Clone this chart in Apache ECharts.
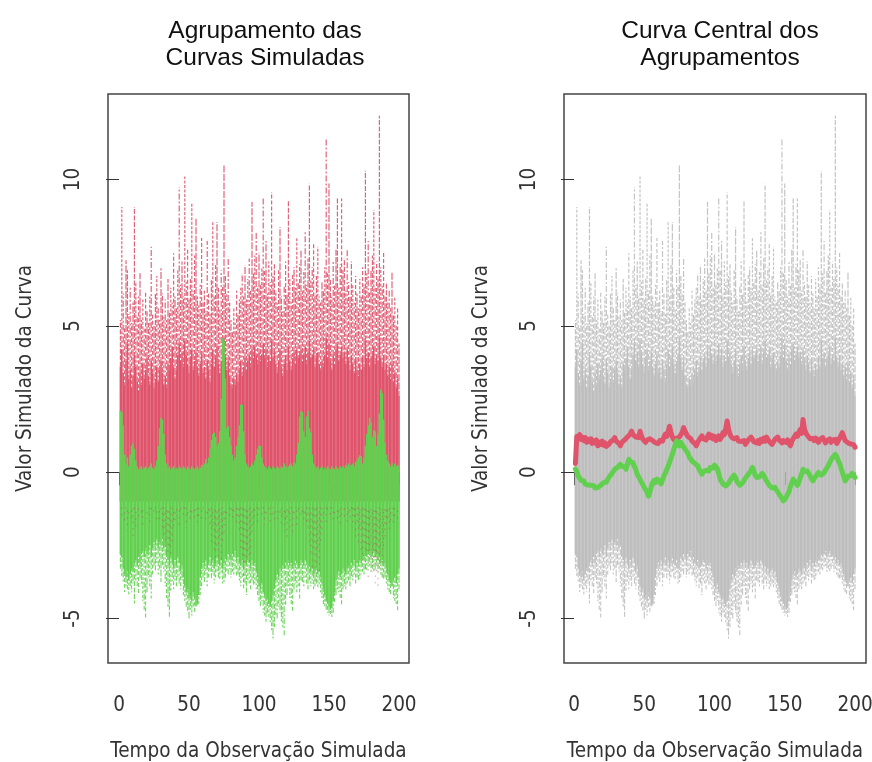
<!DOCTYPE html>
<html><head><meta charset="utf-8">
<script src="https://cdn.jsdelivr.net/npm/echarts@6/dist/echarts.min.js"></script>
<style>html,body{margin:0;padding:0;background:#fff}#c{width:872px;height:762px}</style>
</head><body><div id="c"></div>
<script>
// ---- tick labels ----
const xTicks = [0, 50, 100, 150, 200];
const yTicks = [-5, 0, 5, 10];
const titles = ["Agrupamento das\nCurvas Simuladas", "Curva Central dos\nAgrupamentos"];
const xName = "Tempo da Observação Simulada";
const yName = "Valor Simulado da Curva";

// ---- red cluster: spike maxima (t = 1..200) ----
const redTop = [
 5.2, 9.06, 6.1, 5.0, 7.24, 6.9, 5.4, 6.3, 5.1, 5.8,
 9.06, 6.5, 5.3, 6.0, 6.8, 5.2, 5.9, 4.9, 6.2, 5.5,
 5.1, 6.0, 7.7, 5.4, 5.0, 6.1, 6.7, 5.6, 5.2, 6.97,
 6.1, 5.3, 5.9, 5.2, 6.6, 5.5, 6.3, 5.8, 7.48, 6.0,
 5.6, 6.9, 9.74, 6.4, 7.2, 6.0, 10.1, 6.5, 7.6, 5.9,
 6.6, 9.18, 6.2, 7.4, 8.67, 6.0, 5.7, 6.4, 8.0, 5.8,
 6.2, 5.5, 7.9, 6.1, 5.4, 6.6, 8.55, 6.0, 7.1, 8.55,
 6.3, 5.6, 6.9, 6.4, 10.53, 6.7, 6.1, 7.36, 5.8, 5.2,
 4.8, 5.6, 5.1, 6.2, 5.4, 5.9, 6.3, 6.8, 6.0, 7.07,
 5.9, 6.6, 7.3, 6.2, 9.23, 6.8, 7.4, 8.2, 6.3, 7.5,
 6.4, 7.0, 9.4, 6.9, 7.9, 6.1, 7.2, 6.5, 9.57, 6.7,
 7.1, 6.2, 5.8, 6.9, 8.38, 6.0, 5.5, 6.4, 7.2, 6.1,
 9.29, 6.6, 5.9, 6.8, 7.0, 6.3, 8.0, 6.5, 7.1, 7.59,
 6.2, 6.9, 8.2, 6.4, 7.3, 9.85, 6.6, 7.0, 7.8, 6.1,
 6.7, 7.7, 6.0, 5.8, 6.5, 6.2, 7.0, 11.38, 6.8, 9.86,
 6.6, 6.0, 7.2, 6.4, 7.6, 9.4, 6.3, 7.1, 9.35, 6.9,
 7.3, 6.2, 7.6, 6.5, 6.0, 7.2, 6.4, 5.8, 6.7, 6.1,
 5.6, 6.6, 6.0, 7.0, 6.4, 10.3, 6.8, 7.9, 6.2, 6.9,
 7.4, 8.95, 6.3, 7.2, 6.6, 12.18, 7.0, 6.4, 7.5, 6.0,
 6.5, 5.8, 6.2, 5.6, 6.85, 5.4, 6.0, 5.0, 5.6, 4.4
];
// red cluster: top of the densely covered band
const redCore = [
 3.6, 4.2, 3.4, 3.0, 3.8, 4.4, 3.2, 3.5, 2.9, 3.3,
 4.0, 3.6, 3.1, 2.8, 3.4, 3.0, 3.7, 3.2, 3.5, 3.9,
 3.3, 3.0, 3.8, 3.4, 2.9, 3.2, 3.6, 3.1, 3.5, 3.8,
 3.4, 3.0, 3.3, 2.9, 3.7, 3.5, 3.9, 4.3, 3.6, 3.2,
 3.5, 4.0, 4.4, 3.8, 4.1, 3.6, 4.5, 4.0, 3.7, 3.4,
 3.9, 4.2, 3.5, 3.8, 4.1, 3.6, 3.3, 3.7, 4.0, 3.4,
 3.6, 3.2, 3.8, 3.5, 3.1, 3.7, 4.2, 3.6, 3.9, 4.3,
 3.7, 3.4, 3.8, 4.0, 4.6, 3.9, 3.5, 3.8, 3.3, 3.0,
 2.9, 3.2, 3.0, 3.4, 3.1, 3.5, 3.8, 3.3, 3.6, 3.9,
 3.5, 3.8, 4.0, 3.6, 4.2, 3.9, 4.3, 4.0, 3.7, 4.1,
 3.8, 4.0, 4.4, 3.9, 4.2, 3.6, 4.0, 3.8, 4.5, 3.9,
 4.1, 3.7, 3.4, 3.8, 4.2, 3.6, 3.3, 3.7, 4.0, 3.5,
 4.3, 3.8, 3.5, 3.9, 4.1, 3.7, 4.2, 3.9, 4.0, 4.2,
 3.8, 4.0, 4.3, 3.7, 4.1, 4.5, 3.9, 4.0, 4.2, 3.6,
 3.9, 4.1, 3.7, 3.5, 3.8, 3.6, 4.0, 4.6, 3.9, 4.4,
 3.8, 3.5, 4.0, 3.7, 4.2, 4.4, 3.8, 4.0, 4.3, 3.9,
 4.1, 3.7, 4.2, 3.8, 3.5, 4.0, 3.7, 3.4, 3.8, 3.5,
 3.3, 3.7, 3.5, 3.9, 3.6, 4.5, 3.9, 4.1, 3.6, 3.9,
 4.0, 4.3, 3.7, 4.0, 3.8, 4.6, 3.9, 3.6, 4.0, 3.5,
 3.7, 3.3, 3.6, 3.2, 3.7, 3.1, 3.4, 2.9, 3.2, 2.6
];
// red cluster: lowest excursions
const redLow = [
 -1.2, -1.6, -1.0, -1.8, -1.3, -2.0, -1.5, -1.1, -1.7, -2.2,
 -1.4, -1.9, -1.2, -1.6, -1.0, -1.5, -1.8, -1.3, -1.1, -1.6,
 -1.2, -1.7, -1.4, -1.0, -1.5, -1.3, -1.8, -1.1, -1.6, -1.4,
 -1.9, -2.3, -2.6, -2.2, -2.8, -2.5, -2.9, -2.4, -2.0, -1.7,
 -1.5, -1.2, -1.8, -1.4, -1.1, -1.6, -1.3, -1.9, -1.5, -1.2,
 -1.7, -1.4, -1.1, -1.6, -1.3, -1.8, -1.5, -1.2, -1.6, -1.4,
 -1.2, -1.8, -1.5, -1.3, -1.9, -2.4, -2.0, -2.7, -3.1, -2.6,
 -2.9, -2.3, -3.0, -2.5, -2.1, -1.8, -1.5, -1.2, -1.6, -1.3,
 -1.7, -1.4, -1.2, -1.8, -1.5, -2.1, -2.6, -3.2, -3.8, -3.5,
 -3.0, -2.7, -3.4, -2.8, -2.2, -1.8, -1.5, -1.3, -1.7, -1.4,
 -1.2, -1.6, -1.3, -1.8, -1.5, -1.1, -1.4, -1.7, -1.2, -1.5,
 -1.8, -1.3, -1.6, -1.2, -1.4, -1.9, -1.5, -2.0, -1.7, -2.2,
 -1.5, -1.9, -1.4, -2.1, -1.6, -1.3, -1.8, -1.4, -1.2, -1.6,
 -1.4, -1.8, -1.5, -1.7, -2.0, -2.4, -2.9, -3.3, -2.6, -3.8,
 -3.1, -2.7, -3.4, -2.5, -2.0, -1.6, -1.3, -1.7, -1.4, -1.2,
 -1.6, -1.3, -1.8, -1.5, -1.2, -1.7, -1.4, -1.9, -1.5, -1.3,
 -1.6, -1.2, -1.8, -1.4, -1.7, -1.3, -1.9, -1.6, -2.2, -1.8,
 -2.4, -2.0, -2.7, -3.0, -2.5, -3.3, -2.8, -3.6, -3.1, -2.7,
 -3.4, -3.0, -3.8, -3.5, -3.9, -3.2, -2.8, -3.5, -2.6, -2.2,
 -1.9, -1.6, -2.1, -1.7, -1.4, -1.8, -1.5, -1.3, -1.6, -1.2
];
// green cluster: top of the band (green curves poking upward)
const greenTop = [
 2.1, 2.05, 1.6, 0.6, 0.3, 0.5, 0.2, 0.6, 0.9, 1.0,
 0.8, 0.4, 0.2, 0.1, 0.15, 0.2, 0.1, 0.15, 0.2, 0.1,
 0.15, 0.2, 0.3, 0.15, 0.1, 0.2, 0.4, 0.9, 1.5, 1.86,
 1.8, 1.3, 0.6, 0.3, 0.15, 0.2, 0.1, 0.15, 0.2, 0.1,
 0.15, 0.1, 0.2, 0.15, 0.1, 0.2, 0.15, 0.1, 0.2, 0.15,
 0.1, 0.2, 0.15, 0.1, 0.15, 0.2, 0.1, 0.15, 0.25, 0.2,
 0.3, 0.44, 0.3, 0.5, 0.8, 1.1, 1.3, 1.35, 1.2, 0.9,
 1.0, 1.4, 2.5, 4.58, 4.5, 3.2, 1.5, 1.57, 1.2, 0.9,
 0.6, 0.4, 0.5, 0.9, 1.2, 1.6, 2.31, 2.3, 1.4, 0.6,
 0.3, 0.2, 0.15, 0.2, 0.3, 0.25, 0.4, 0.6, 0.8, 0.9,
 0.9, 0.5, 0.3, 0.2, 0.15, 0.1, 0.2, 0.15, 0.1, 0.2,
 0.15, 0.1, 0.2, 0.15, 0.1, 0.2, 0.15, 0.3, 0.2, 0.15,
 0.2, 0.25, 0.3, 0.2, 0.35, 0.3, 0.6, 1.0, 1.9, 2.09,
 2.05, 1.4, 1.2, 1.9, 2.09, 1.5, 1.36, 0.6, 0.3, 0.2,
 0.15, 0.2, 0.1, 0.15, 0.2, 0.1, 0.15, 0.1, 0.2, 0.15,
 0.1, 0.2, 0.15, 0.1, 0.2, 0.15, 0.1, 0.2, 0.15, 0.2,
 0.15, 0.25, 0.2, 0.3, 0.2, 0.25, 0.3, 0.2, 0.35, 0.4,
 0.5, 0.58, 0.55, 0.3, 0.5, 0.9, 1.3, 1.6, 1.86, 1.7,
 1.2, 1.43, 1.4, 0.9, 1.3, 2.0, 2.82, 2.7, 1.8, 1.0,
 0.6, 0.4, 0.3, 0.2, 0.3, 0.2, 0.3, 0.2, 0.25, 0.2
];
// green cluster: bottom of the densely covered band
const greenCore = [
 -2.8, -2.9, -3.3, -3.5, -3.6, -3.4, -3.7, -3.5, -3.3, -3.4,
 -3.1, -3.0, -3.2, -2.9, -3.1, -2.8, -2.7, -2.9, -2.6, -2.8,
 -2.7, -2.5, -2.9, -2.6, -2.4, -2.5, -2.3, -2.6, -2.4, -2.5,
 -2.3, -2.6, -2.5, -2.9, -3.0, -3.2, -2.9, -3.1, -3.3, -3.0,
 -3.2, -2.9, -3.1, -3.4, -3.2, -3.6, -3.9, -4.1, -4.0, -4.3,
 -4.2, -4.4, -4.1, -4.3, -4.56, -4.5, -4.2, -3.6, -3.3, -3.1,
 -3.2, -3.0, -3.3, -3.1, -2.9, -3.2, -3.0, -3.3, -3.1, -2.9,
 -3.1, -3.2, -3.0, -3.3, -3.1, -2.9, -3.0, -2.8, -2.9, -3.0,
 -2.8, -2.9, -2.7, -3.0, -2.9, -3.1, -3.2, -3.0, -3.3, -3.1,
 -3.2, -3.0, -3.1, -3.3, -3.0, -3.2, -3.1, -3.4, -3.6, -3.9,
 -4.0, -3.8, -4.1, -4.2, -4.4, -4.3, -4.5, -4.6, -4.4, -4.2,
 -4.0, -3.7, -3.5, -3.6, -3.3, -3.4, -3.2, -3.3, -3.1, -3.2,
 -3.0, -3.2, -3.1, -3.3, -3.2, -3.0, -3.1, -3.3, -3.2, -3.0,
 -3.1, -3.2, -3.0, -3.1, -3.3, -3.2, -3.4, -3.3, -3.5, -3.4,
 -3.3, -3.5, -3.4, -3.6, -3.8, -4.0, -4.2, -4.4, -4.5, -4.6,
 -4.7, -4.65, -4.4, -4.1, -3.7, -3.5, -3.4, -3.6, -3.5, -3.3,
 -3.4, -3.5, -3.3, -3.2, -3.4, -3.1, -3.2, -3.0, -3.3, -3.1,
 -3.2, -3.0, -3.1, -2.9, -3.0, -2.8, -2.9, -2.8, -2.7, -2.9,
 -2.8, -2.7, -2.9, -2.8, -3.0, -2.9, -3.1, -3.0, -3.2, -3.1,
 -3.3, -3.5, -3.7, -3.8, -3.9, -3.7, -3.6, -3.8, -3.5, -3.3
];
// green cluster: spike minima
const greenLow = [
 -3.3, -3.6, -3.8, -4.09, -3.9, -4.0, -4.2, -3.9, -4.1, -3.8,
 -4.49, -3.7, -3.9, -4.2, -3.6, -3.8, -4.4, -4.7, -5.0, -4.1,
 -3.6, -3.9, -4.32, -3.5, -3.2, -3.4, -3.1, -3.5, -3.3, -3.75,
 -3.2, -3.4, -3.9, -4.3, -4.6, -4.94, -4.1, -3.8, -4.0, -3.7,
 -3.9, -3.6, -3.8, -4.0, -3.7, -4.2, -4.4, -4.6, -4.8, -5.0,
 -4.7, -4.9, -4.6, -4.8, -4.6, -4.55, -4.5, -4.2, -3.9, -3.6,
 -3.8, -3.5, -3.9, -3.6, -3.4, -3.64, -3.5, -3.8, -3.6, -3.4,
 -3.6, -3.7, -3.5, -3.8, -3.75, -3.6, -3.4, -3.5, -3.3, -3.6,
 -3.4, -3.5, -3.3, -3.6, -3.5, -3.7, -3.9, -3.6, -4.0, -3.8,
 -4.2, -3.7, -3.8, -4.0, -3.7, -3.9, -3.8, -4.0, -4.2, -4.4,
 -4.6, -4.4, -4.8, -4.9, -5.11, -4.8, -5.0, -5.2, -5.4, -5.68,
 -5.3, -4.9, -5.0, -4.6, -4.8, -5.1, -5.3, -5.57, -4.6, -4.2,
 -3.9, -4.3, -4.5, -4.77, -4.0, -3.8, -4.1, -3.9, -4.32, -3.7,
 -3.8, -3.9, -3.6, -3.8, -4.0, -3.7, -3.9, -3.8, -4.0, -3.9,
 -3.8, -3.98, -3.9, -4.1, -4.3, -4.5, -4.6, -4.7, -4.8, -4.9,
 -4.85, -4.95, -4.8, -4.5, -4.2, -4.0, -4.1, -4.3, -4.55, -4.0,
 -3.9, -4.0, -3.8, -3.7, -3.9, -3.6, -3.7, -3.5, -3.8, -3.6,
 -3.7, -3.64, -3.5, -3.4, -3.5, -3.3, -3.4, -3.3, -3.2, -3.4,
 -3.3, -3.4, -3.3, -3.2, -3.4, -3.3, -3.5, -3.6, -3.7, -3.6,
 -3.8, -4.0, -4.1, -4.2, -3.75, -4.3, -4.4, -4.5, -4.72, -4.0
];
// central curve of the red group
const centralRed = [
 0.30, 1.22, 1.15, 1.28, 1.12, 1.20, 1.08, 1.18, 1.02, 1.12,
 1.05, 1.14, 0.98, 1.08, 1.00, 1.10, 0.90, 1.02, 0.95, 1.06,
 0.92, 1.00, 0.88, 0.84, 0.96, 1.04, 0.98, 1.10, 1.18, 1.06,
 1.12, 0.98, 0.90, 1.02, 0.96, 1.10, 1.04, 1.20, 1.14, 1.30,
 1.40, 1.28, 1.32, 1.20, 1.26, 1.18, 1.40, 1.24, 1.12, 1.18,
 1.02, 1.10, 1.06, 1.14, 1.18, 1.08, 1.12, 1.00, 1.06, 0.98,
 1.08, 1.14, 1.06, 1.20, 1.30, 1.22, 1.38, 1.57, 1.36, 1.20,
 1.12, 1.07, 1.16, 1.10, 1.20, 1.28, 1.36, 1.52, 1.40, 1.30,
 1.22, 1.28, 1.15, 1.06, 1.12, 0.98, 0.90, 1.02, 1.10, 1.04,
 1.24, 1.14, 1.20, 1.10, 1.22, 1.30, 1.18, 1.26, 1.14, 1.22,
 1.08, 1.15, 1.24, 1.12, 1.20, 1.35, 1.28, 1.50, 1.75, 1.46,
 1.30, 1.20, 1.26, 1.14, 1.10, 1.18, 1.06, 1.12, 1.05, 1.00,
 1.08, 0.95, 1.02, 1.10, 1.04, 1.20, 1.12, 1.04, 1.10, 1.00,
 1.08, 0.98, 1.12, 1.05, 1.16, 1.06, 1.20, 1.15, 1.04, 1.10,
 0.95, 1.04, 1.12, 1.06, 1.20, 1.10, 1.16, 1.00, 1.08, 1.14,
 1.02, 1.10, 0.98, 0.90, 1.05, 1.14, 1.08, 1.30, 1.22, 1.36,
 1.45, 1.32, 1.80, 1.48, 1.34, 1.26, 1.25, 1.14, 1.20, 1.15,
 1.08, 1.16, 1.10, 1.02, 1.12, 1.06, 1.18, 1.10, 1.00, 1.08,
 1.05, 1.14, 1.02, 1.10, 1.04, 1.12, 0.98, 1.00, 1.16, 1.22,
 1.35, 1.20, 1.08, 1.14, 1.00, 1.06, 0.96, 0.90, 0.94, 0.85
];
// central curve of the green group
const centralGreen = [
 0.10, 0.02, -0.13, -0.20, -0.28, -0.34, -0.30, -0.41, -0.38, -0.44,
 -0.40, -0.45, -0.50, -0.46, -0.54, -0.58, -0.52, -0.55, -0.45, -0.42,
 -0.36, -0.30, -0.34, -0.24, -0.18, -0.10, -0.04, 0.02, 0.10, 0.06,
 0.16, 0.22, 0.27, 0.20, 0.14, 0.18, 0.10, 0.26, 0.44, 0.36,
 0.40, 0.32, 0.20, 0.08, -0.07, -0.16, -0.22, -0.34, -0.40, -0.52,
 -0.60, -0.70, -0.82, -0.68, -0.50, -0.35, -0.28, -0.36, -0.24, -0.20,
 -0.30, -0.40, -0.26, -0.12, -0.04, 0.10, 0.20, 0.34, 0.48, 0.61,
 0.78, 0.92, 1.07, 1.00, 0.90, 1.02, 0.95, 0.86, 0.80, 0.72,
 0.64, 0.52, 0.45, 0.38, 0.42, 0.30, 0.26, 0.22, 0.10, 0.02,
 -0.07, 0.02, -0.04, 0.06, 0.10, 0.04, 0.16, 0.22, 0.14, 0.24,
 0.30, 0.12, -0.06, -0.24, -0.32, -0.40, -0.36, -0.47, -0.42, -0.38,
 -0.35, -0.22, -0.16, -0.10, -0.20, -0.32, -0.38, -0.45, -0.40, -0.36,
 -0.30, -0.20, -0.14, -0.08, -0.02, 0.06, 0.16, 0.04, -0.10, -0.18,
 -0.24, -0.16, -0.12, -0.04, -0.07, -0.20, -0.30, -0.38, -0.45, -0.50,
 -0.54, -0.58, -0.52, -0.60, -0.66, -0.75, -0.82, -0.90, -0.98, -0.92,
 -0.86, -0.80, -0.66, -0.50, -0.36, -0.24, -0.30, -0.38, -0.45, -0.34,
 -0.20, -0.06, 0.10, 0.02, -0.04, 0.04, -0.01, -0.12, -0.22, -0.30,
 -0.24, -0.14, -0.08, -0.01, -0.06, -0.10, -0.13, -0.02, 0.08, 0.14,
 0.22, 0.34, 0.42, 0.50, 0.56, 0.61, 0.52, 0.40, 0.30, 0.14,
 0.00, -0.16, -0.30, -0.22, -0.13, -0.08, -0.12, -0.04, -0.07, -0.18
];

// ---- colours ----
const RED = '#DF536B', GREEN = '#61D04F', GRAY = '#BEBEBE';

const time = redTop.map((_, i) => i + 1);
const val = (v, i) => Array.isArray(v) ? v[i] : v;
const seg = (lo, hi) => time.map((x, i) => [x, val(lo, i), val(hi, i)]);
const DASHES = [[5, 1.5], [3, 1.5], [6, 2, 2, 2], [4, 2], [7, 1.5]];

function segSeries(gi, data, color, width, opacity, dash) {
  return {
    type: 'custom', xAxisIndex: gi, yAxisIndex: gi, clip: true, silent: true,
    encode: { x: 0, y: [1, 2] }, data,
    renderItem(params, api) {
      const x = api.value(0);
      const lo = api.value(1), hi = api.value(2);
      if (!(hi > lo)) return null;
      const a = api.coord([x, lo]);
      const b = api.coord([x, hi]);
      const k = params.dataIndex;
      const style = { stroke: color, lineWidth: width, opacity };
      if (dash) { style.lineDash = dash === true ? DASHES[k % DASHES.length] : dash; style.lineDashOffset = (k * 3) % 7; }
      return { type: 'line', shape: { x1: a[0], y1: a[1], x2: b[0], y2: b[1] }, style };
    }
  };
}
function lineSeries(gi, ys, color) {
  return {
    type: 'line', xAxisIndex: gi, yAxisIndex: gi, symbol: 'none', silent: true,
    data: time.map((x, i) => [x, ys[i]]),
    lineStyle: { color, width: 5, cap: 'round', join: 'round' }
  };
}

const AX_FONT = "'DejaVu Sans Condensed', 'Liberation Sans Narrow', 'Liberation Sans', sans-serif";
const TITLE_FONT = "'Liberation Sans', Arial, sans-serif";

function xAxis(gi, min, max) {
  return {
    type: 'value', gridIndex: gi, min, max,
    axisLine: { show: false }, splitLine: { show: false },
    axisTick: { show: true, length: 13, customValues: xTicks, lineStyle: { color: '#333', width: 1 } },
    axisLabel: { customValues: xTicks, margin: 32, fontSize: 20.5, color: '#333', fontFamily: AX_FONT },
    name: xName, nameLocation: 'middle', nameGap: 78,
    nameTextStyle: { fontSize: 20.5, color: '#333', fontFamily: AX_FONT }
  };
}
function yAxis(gi) {
  return {
    type: 'value', gridIndex: gi, min: -6.52, max: 12.92,
    axisLine: { show: false }, splitLine: { show: false },
    axisTick: { show: true, length: 13, customValues: yTicks, lineStyle: { color: '#333', width: 1 } },
    axisLabel: { customValues: yTicks, rotate: 90, margin: 24, fontSize: 20.5, color: '#333', fontFamily: AX_FONT },
    name: yName, nameLocation: 'middle', nameGap: 72, nameRotate: 90,
    nameTextStyle: { fontSize: 20.5, color: '#333', fontFamily: AX_FONT }
  };
}

const chart = echarts.init(document.getElementById('c'), null, { renderer: 'canvas' });
chart.setOption({
  animation: false,
  backgroundColor: '#fff',
  title: [
    { text: titles[0], left: 260, top: 13, textAlign: 'center',
      textStyle: { fontSize: 24.5, fontWeight: 'normal', color: '#111', lineHeight: 27, fontFamily: TITLE_FONT } },
    { text: titles[1], left: 715, top: 13, textAlign: 'center',
      textStyle: { fontSize: 24.5, fontWeight: 'normal', color: '#111', lineHeight: 27, fontFamily: TITLE_FONT } }
  ],
  grid: [
    { left: 108, top: 94, width: 301, height: 569, show: true, borderColor: '#444', borderWidth: 1.5,
      backgroundColor: 'transparent', containLabel: false, outerBoundsMode: 'none' },
    { left: 564, top: 94, width: 302, height: 569, show: true, borderColor: '#444', borderWidth: 1.5,
      backgroundColor: 'transparent', containLabel: false, outerBoundsMode: 'none' }
  ],
  xAxis: [xAxis(0, -7.86, 207.14), xAxis(1, -7.12, 207.82)],
  yAxis: [yAxis(0), yAxis(1)],
  series: [
    // left panel: clustered curves
    segSeries(0, seg(redCore, redTop), RED, 1.2, 0.9, true),
    segSeries(0, seg(-1.0, redCore), RED, 1.6, 1, false),
    segSeries(0, seg(greenLow, greenCore), GREEN, 1.1, 0.9, true),
    segSeries(0, seg(greenCore, greenTop), GREEN, 1.6, 1, false),
    segSeries(0, seg(redLow, -1.2), '#B8475C', 1, 0.5, [1.5, 5]),
    // right panel: all curves in gray + central curves
    segSeries(1, seg(redCore, redTop), GRAY, 1.2, 0.9, true),
    segSeries(1, seg(greenLow, greenCore), GRAY, 1.1, 0.9, true),
    segSeries(1, seg(greenCore, redCore), GRAY, 1.6, 1, false),
    lineSeries(1, centralRed, RED),
    lineSeries(1, centralGreen, GREEN)
  ]
});
</script></body></html>
